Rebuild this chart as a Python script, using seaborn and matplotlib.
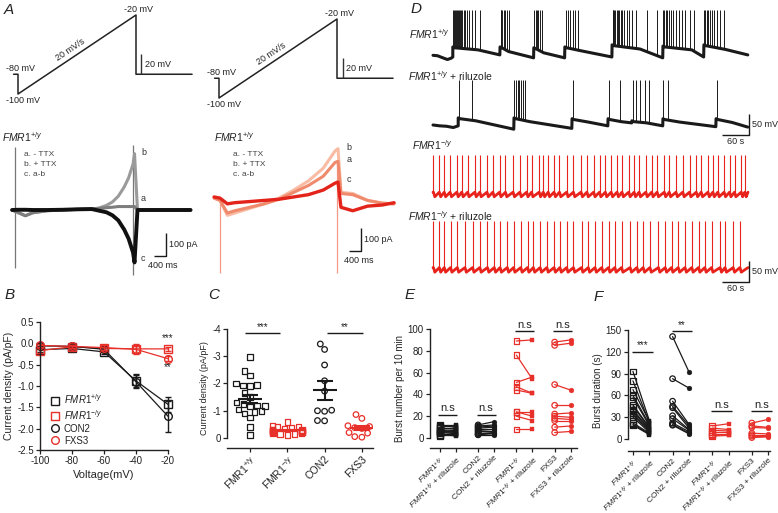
import numpy as np
import pandas as pd
import matplotlib
matplotlib.use("Agg")
import matplotlib.pyplot as plt
import seaborn as sns

sns.set_theme(style="ticks")
plt.rcParams["font.family"] = ["Liberation Sans", "DejaVu Sans"]
plt.rcParams.update({
    "mathtext.fontset": "custom",
    "mathtext.rm": "Liberation Sans",
    "mathtext.it": "Liberation Sans:italic",
    "mathtext.bf": "Liberation Sans:bold",
    "axes.unicode_minus": False,
    "axes.linewidth": 1.0,
    "axes.edgecolor": "#222222",
    "xtick.color": "#222222", "ytick.color": "#222222",
    "xtick.major.width": 0.9, "ytick.major.width": 0.9,
    "xtick.major.size": 3, "ytick.major.size": 3,
    "xtick.major.pad": 1.5, "ytick.major.pad": 1.5,
    "text.color": "#222222",
})

BLACK = "#1a1a1a"
RED = "#e8302a"
WT = r"$\mathit{FMR1}^{+/y}$"
KO = r"$\mathit{FMR1}^{-/y}$"

# ---------------------------------------------------------
# Data
# ---------------------------------------------------------
# A: voltage ramp protocol (s, mV)
ramp_t = [-0.15, 0.0, 0.0, 4.0, 4.0, 5.9]
ramp_v = [-80, -80, -100, -20, -80, -80]

# A: ramp currents (pA), left = FMR1+/y
wt_t = [-0.2, 0.0, 0.25, 0.5, 1.0, 1.5, 2.0, 2.5, 2.75, 3.0, 3.2, 3.4, 3.6, 3.75, 3.9, 3.95, 4.05, 4.5, 5.0, 5.5, 5.85]
wt_a = [0, -10, -25, -12, -3, 0, 3, 5, 6, 10, 12, 15, 15, 15, 15, 15, 0, 0, 0, 0, 0]
wt_b = [0, -12, -25, -12, -3, 0, 2, 4, 9, 20, 35, 60, 100, 140, 200, 245, 0, 0, 0, 0, 0]
wt_c = [0, 1, 1, 0, 0, 1, 3, 4, -3, -10, -23, -45, -85, -125, -185, -228, 0, 0, 0, 0, 0]
wt_tr_t = [-0.1, 3.91]
wt_tr_lo = [-252, -283]
wt_tr_hi = [274, 283]

# A: ramp currents (pA), right panel
fx_t = [-0.2, 0.0, 0.25, 0.5, 1.0, 1.5, 2.0, 2.5, 3.0, 3.5, 3.9, 4.0, 4.1, 4.5, 5.0, 5.5, 5.9]
fx_a = [30, 20, -35, -25, -10, 5, 25, 55, 85, 125, 185, 190, 50, 45, 20, 8, 5]
fx_b = [30, 20, -45, -35, -15, 5, 30, 65, 105, 160, 235, 245, 55, 50, 20, 8, 5]
fx_c = [35, 30, 5, 10, 15, 20, 25, 35, 45, 65, 95, 100, -10, -25, -5, 0, 10]
fx_tr_t = [0.0, 3.98]
fx_tr_lo = [-296, -296]
fx_tr_hi = [20, 180]

# D: FMR1+/y bursting (s, mV): onset, plateau at onset, knee, end of plateau
d1_pre_t = [0, 10, 22, 32, 40, 44]
d1_pre_v = [-56, -57, -62, -66, -63, -60]
d1_on = [44, 149, 224, 293, 398, 511, 602]
d1_v0 = [-36, -36, -38, -36, -31, -34, -31]
d1_knee = [100, 168, 246, 328, 460, 575, 650]
d1_vk = [-43, -47, -50, -45, -41, -43, -42]
d1_v1 = [-55, -62, -62, -60, -62, -60, -55]
d1_spk = [45, 47, 49, 51, 53, 55, 57, 59, 62, 65, 68, 71, 75, 80, 86, 94, 104,
          150, 152, 154, 157, 160, 164, 169,
          225, 228, 231, 234, 238, 243,
          296, 300, 305, 310, 316, 322,
          399, 401, 403, 405, 408, 411, 414, 417, 421, 425, 430, 436, 443, 452, 476, 498,
          512, 514, 517, 520, 524, 528, 533, 539, 546, 553, 561, 570, 580,
          603, 605, 608, 611, 615, 619, 624, 630, 638, 646]

# D: FMR1+/y + riluzole
d2_pre_t = [0, 15, 30, 45, 56]
d2_pre_v = [-60, -62, -63, -66, -62]
d2_on = [56, 180, 309, 389, 442, 511, 629]
d2_v0 = [-43, -43, -45, -45, -50, -45, -45]
d2_knee = [95, 215, 345, 418, 475, 548, 665]
d2_vk = [-50, -52, -53, -52, -55, -53, -54]
d2_v1 = [-70, -68, -62, -55, -62, -64, -65]
d2_spk = [57, 86, 181, 184, 188, 192, 196, 200, 204, 310, 390, 415,
          445, 452, 460, 470, 479, 512, 523, 630]

# D: FMR1-/y tonic firing, spike times (s)
d3_spk = [1, 14, 25, 38, 53, 64, 77, 93, 104, 120, 133, 148, 161, 178, 193, 208, 219,
          236, 245, 256, 269, 281, 297, 312, 329, 342, 357, 370, 383, 396, 409, 420,
          435, 447, 458, 473, 486, 498, 514, 525, 540, 555, 570, 585, 596, 611, 622,
          633, 647, 659, 670, 685, 693]
d4_spk = [1, 14, 25, 39, 54, 71, 88, 104, 121, 136, 149, 165, 179, 195, 210, 223, 238,
          253, 269, 282, 297, 312, 330, 345, 360, 375, 390, 404, 419, 438, 453, 467,
          482, 501, 516, 530, 545, 560, 575, 590, 604, 619, 638, 649, 667, 682]

# B: I-V curves (pA/pF)
volt = [-100, -80, -60, -40, -20]
b_wt = [-0.15, -0.12, -0.2, -0.88, -1.43]
b_wt_sem = [0.05, 0.04, 0.05, 0.15, 0.17]
b_ko = [-0.17, -0.08, -0.12, -0.13, -0.13]
b_ko_sem = [0.05, 0.04, 0.05, 0.12, 0.04]
b_con = [-0.06, -0.07, -0.14, -0.9, -1.71]
b_con_sem = [0.04, 0.04, 0.06, 0.15, 0.36]
b_fxs = [-0.05, -0.07, -0.1, -0.14, -0.36]
b_fxs_sem = [0.04, 0.04, 0.05, 0.08, 0.06]

# C: current density at -20 mV (pA/pF)
c_cats = ["FMR1+/y", "FMR1-/y", "CON2", "FXS3"]
c_wt = [-2.97, -2.45, -2.3, -2.0, -1.95, -1.93, -1.9, -1.65, -1.5, -1.3, -1.25,
        -1.2, -1.18, -1.15, -1.05, -1.0, -0.95, -0.9, -0.75, -0.4, -0.1]
c_ko = [-0.58, -0.45, -0.42, -0.4, -0.38, -0.35, -0.32, -0.3, -0.3, -0.28, -0.27,
        -0.25, -0.25, -0.23, -0.22, -0.2, -0.2, -0.18, -0.17, -0.15, -0.15, -0.12]
c_con = [-3.45, -3.25, -2.68, -2.1, -1.72, -1.0, -0.98, -1.02, -0.64, -0.63]
c_fxs = [-0.86, -0.72, -0.45, -0.42, -0.38, -0.35, -0.2, -0.18, -0.05, -0.03]

# E: burst number per 10 min, before / with riluzole
e_wt_pre = [12, 11, 10, 9, 8, 7, 6, 6, 5, 5, 4, 3, 3, 2]
e_wt_ril = [12, 10, 11, 8, 9, 6, 7, 5, 6, 4, 4, 3, 2, 3]
e_con_pre = [12, 11, 10, 9, 8, 7, 6, 5, 4, 3, 3]
e_con_ril = [15, 12, 11, 10, 8, 8, 6, 5, 5, 4, 3]
e_ko_pre = [89, 76, 51, 47, 44, 24, 24, 20, 8]
e_ko_ril = [90, 54, 56, 41, 41, 24, 20, 16, 8]
e_fxs_pre = [88, 85, 49, 30, 22, 20, 18, 16, 10, 5]
e_fxs_ril = [90, 87, 44, 30, 23, 19, 17, 16, 11, 6]

# F: burst duration (s)
f_wt_pre = [93, 80, 68, 60, 57, 47, 45, 40, 38, 35, 33, 30, 22, 20, 19]
f_wt_ril = [25, 22, 24, 20, 18, 16, 15, 14, 13, 12, 10, 9, 8, 7, 6]
f_con_pre = [141, 83, 52, 45, 43, 32, 28, 22, 20, 19]
f_con_ril = [92, 70, 20, 18, 15, 13, 12, 10, 8, 7]
f_ko_pre = [18, 15, 12, 9, 7, 5, 4]
f_ko_ril = [21, 13, 11, 9, 7, 6, 5]
f_fxs_pre = [22, 18, 16, 8, 6, 4, 2]
f_fxs_ril = [27, 16, 15, 7, 6, 4, 3]

pair_labels = [WT, WT + " + riluzole", "CON2", "CON2 + riluzole",
               KO, KO + " + riluzole", "FXS3", "FXS3 + riluzole"]
pair_pos = [0, 1, 2.4, 3.4, 4.8, 5.8, 7.2, 8.2]

# ---------------------------------------------------------
# Figure helpers (pixel layout of a 778x513 figure)
# ---------------------------------------------------------
W, H = 778, 513
fig = plt.figure(figsize=(W / 100, H / 100), dpi=100)


def px_axes(left, top, right, bottom, x0, xs, y0, ys):
    # x0/y0: pixel where data value 0 sits, xs/ys: pixels per data unit
    ax = fig.add_axes([left / W, 1 - bottom / H, (right - left) / W, (bottom - top) / H])
    ax.set_xlim((left - x0) / xs, (right - x0) / xs)
    ax.set_ylim((y0 - bottom) / ys, (y0 - top) / ys)
    ax.axis("off")
    return ax


def box_axes(left, top, right, bottom):
    return fig.add_axes([left / W, 1 - bottom / H, (right - left) / W, (bottom - top) / H])


def ftext(x, y, s, **kw):
    kw.setdefault("fontsize", 6.5)
    fig.text(x / W, 1 - y / H, s, **kw)


def line(ax, x, y, color, lw):
    sns.lineplot(x=x, y=y, sort=False, estimator=None, color=color, lw=lw, ax=ax)


def bar(ax, xs, ys, color=BLACK):
    ax.plot(xs, ys, color=color, lw=1.0, solid_capstyle="butt", clip_on=False)


# panel letters
for lx, ly, letter in [(4, 3, "A"), (411, 2, "D"), (5, 288, "B"), (208, 288, "C"),
                       (405, 288, "E"), (594, 290, "F")]:
    ftext(lx, ly, letter, fontsize=11, style="italic", va="top", ha="left")

# ---------------------------------------------------------
# A: protocols
# ---------------------------------------------------------
for left, x0, y0, bar_t in [(0, 18, -4.75, 4.17), (200, 219, -0.75, 4.2)]:
    ax = px_axes(left, 0, left + 200, 115, x0, 29.5, y0, 0.9875)
    line(ax, ramp_t, ramp_v, "#222222", 1.1)
    bar(ax, [bar_t, bar_t], [-80, -60], "#333333")
    ax.text(-0.42, -79, "-80 mV", ha="left", va="bottom", fontsize=6.5)
    ax.text(-0.42, -102, "-100 mV", ha="left", va="top", fontsize=6.5)
    ax.text(4.1, -18.5, "-20 mV", ha="center", va="bottom", fontsize=6.5)
    ax.text(bar_t + 0.12, -70, "20 mV", ha="left", va="center", fontsize=6.5)
    ax.text(1.85, -59, "20 mV/s", rotation=33.8, rotation_mode="anchor",
            ha="center", va="bottom", fontsize=6.5)

# A: currents, left
ax = px_axes(0, 140, 200, 285, 18, 29.5, 210, 0.23)
ax.vlines(wt_tr_t, wt_tr_lo, wt_tr_hi, color="#777777", lw=0.9)
line(ax, wt_t, wt_b, "#9a9a9a", 2.2)
line(ax, wt_t, wt_a, "#7d7d7d", 2.2)
line(ax, wt_t, wt_c, "#111111", 2.8)
bar(ax, [5.02, 5.02, 4.61], [-100, -200, -200])
ax.text(5.12, -150, "100 pA", ha="left", va="center", fontsize=6.5)
ax.text(4.41, -220, "400 ms", ha="left", va="top", fontsize=6.5)
for lab, yv in [("b", 252), ("a", 48), ("c", -209)]:
    ax.text(4.17, yv, lab, ha="left", va="center", fontsize=6.5, color="#333333")

# A: currents, right
ax = px_axes(200, 140, 400, 285, 220, 29.5, 205, 0.23)
ax.vlines(fx_tr_t, fx_tr_lo, fx_tr_hi, color="#f29a86", lw=0.9)
line(ax, fx_t, fx_b, "#f9bba3", 2.2)
line(ax, fx_t, fx_a, "#f08a6c", 2.2)
line(ax, fx_t, fx_c, "#e3241b", 2.4)
bar(ax, [4.78, 4.78, 4.37], [-100, -200, -200])
ax.text(4.88, -150, "100 pA", ha="left", va="center", fontsize=6.5)
ax.text(4.2, -220, "400 ms", ha="left", va="top", fontsize=6.5)
for lab, yv in [("b", 252), ("a", 196), ("c", 109)]:
    ax.text(4.3, yv, lab, ha="left", va="center", fontsize=6.5, color="#333333")

for lx in (2, 214):
    ftext(lx, 137, WT, fontsize=7.5, va="center")
for lx in (24, 233):
    ftext(lx, 155, "a. - TTX", fontsize=6, color="#444444", va="center")
    ftext(lx, 164.5, "b. + TTX", fontsize=6, color="#444444", va="center")
    ftext(lx, 174, "c. a-b", fontsize=6, color="#444444", va="center")


# ---------------------------------------------------------
# D: current-clamp traces
# ---------------------------------------------------------
def burst_trace(ax, pre_t, pre_v, onsets, v0, knees, vk, v1, t_end, spikes, peak, color):
    bt, bv = list(pre_t), list(pre_v)
    stops = onsets[1:] + [t_end]
    for on, kt, off, a, k, b in zip(onsets, knees, stops, v0, vk, v1):
        bt += [on, on + 4, kt, off - 0.5]
        bv += [a, a - 2, k, b]
    base_at = np.interp(spikes, bt, bv)
    line(ax, bt, bv, color, 2.2)
    ax.vlines(spikes, base_at, peak, color=color, lw=0.7)


def tonic_trace(ax, spikes, v_pre, v_ahp, peak, t_end, color):
    t, v = [0], [v_pre]
    for s in spikes:
        t += [s, s + 1.0, s + 3]
        v += [v_pre, v_ahp + 8, v_ahp]
    t.append(t_end)
    v.append(v_pre)
    line(ax, t, v, color, 2.0)
    ax.vlines(spikes, v_pre, peak, color=color, lw=0.8)


d1 = px_axes(400, 0, 778, 68, 433, 0.45, 31.8, 0.42)
burst_trace(d1, d1_pre_t, d1_pre_v, d1_on, d1_v0, d1_knee, d1_vk, d1_v1, 700, d1_spk, 52, BLACK)
d2 = px_axes(400, 68, 778, 150, 433, 0.45, 99.8, 0.42)
burst_trace(d2, d2_pre_t, d2_pre_v, d2_on, d2_v0, d2_knee, d2_vk, d2_v1, 700, d2_spk, 47, BLACK)
d3 = px_axes(400, 150, 778, 210, 433, 0.45, 169.9, 0.42)
tonic_trace(d3, d3_spk, -53, -64, 36, 700, "#e8231c")
d4 = px_axes(400, 208, 778, 300, 433, 0.45, 244.9, 0.42)
tonic_trace(d4, d4_spk, -54, -65, 58, 700, "#e8231c")

for ax, lo in [(d2, -84), (d4, -88)]:
    bar(ax, [702, 702, 642], [lo + 50, lo, lo])
    ax.text(708, lo + 25, "50 mV", ha="left", va="center", fontsize=6.5)
    ax.text(672, lo - 5, "60 s", ha="center", va="top", fontsize=6.5)

ftext(409, 34, WT, fontsize=7.5, va="center")
ftext(408, 76, WT + " + riluzole", fontsize=7.5, va="center")
ftext(412, 145, KO, fontsize=7.5, va="center")
ftext(408, 216, KO + " + riluzole", fontsize=7.5, va="center")

# ---------------------------------------------------------
# B: I-V curves
# ---------------------------------------------------------
axb = box_axes(40, 322, 168, 450)
b_series = [(b_wt, b_wt_sem, BLACK, "s", WT), (b_ko, b_ko_sem, RED, "s", KO),
            (b_con, b_con_sem, BLACK, "o", "CON2"), (b_fxs, b_fxs_sem, RED, "o", "FXS3")]
handles = []
for vals, sem, col, mk, lab in b_series:
    sns.lineplot(x=volt, y=vals, color=col, marker=mk, ms=5.5, mfc="none", mec=col,
                 mew=1.0, lw=0.9, ax=axb)
    axb.errorbar(volt, vals, yerr=sem, fmt="none", ecolor=col, elinewidth=1.0,
                 capsize=2.5, capthick=1.0, clip_on=False)
    handles.append(plt.Line2D([], [], color=col, marker=mk, ls="none", ms=5.5,
                              mfc="none", mec=col, mew=1.0, label=lab))
for l in axb.lines:
    l.set_clip_on(False)
axb.set_xlim(-100, -20)
axb.set_ylim(-2.5, 0.5)
axb.set_xticks(volt)
axb.set_yticks([0.5, 0.0, -0.5, -1.0, -1.5, -2.0, -2.5])
axb.set_yticklabels(["0.5", "0.0", "-0.5", "-1.0", "-1.5", "-2.0", "-2.5"])
axb.tick_params(labelsize=7)
axb.set_xlabel("Voltage(mV)", fontsize=8, labelpad=3)
axb.set_ylabel("Current density (pA/pF)", fontsize=7.5, labelpad=2)
axb.text(-20, 0.0, "***", ha="center", va="bottom", fontsize=7)
axb.text(-20, -0.45, "**", ha="center", va="top", fontsize=7)
axb.legend(handles=handles, loc="upper left", bbox_to_anchor=(0.05, 0.49), frameon=False,
           fontsize=7, handlelength=0.8, handletextpad=0.5, labelspacing=0.2, borderpad=0)
sns.despine(ax=axb)

# ---------------------------------------------------------
# C: scatter with mean +/- SEM
# ---------------------------------------------------------
axc = box_axes(227, 329, 373, 448)
c_df = pd.DataFrame({"group": sum([[g] * len(v) for g, v in zip(c_cats, [c_wt, c_ko, c_con, c_fxs])], []),
                     "val": c_wt + c_ko + c_con + c_fxs})
c_style = {"FMR1+/y": (BLACK, "s"), "FMR1-/y": (RED, "s"), "CON2": (BLACK, "o"), "FXS3": (RED, "o")}
for i, g in enumerate(c_cats):
    col, mk = c_style[g]
    sns.swarmplot(data=c_df[c_df.group == g], x="group", y="val", order=c_cats, marker=mk,
                  color=col, facecolor="none", edgecolor=col, linewidth=0.9, size=4.0,
                  ax=axc, warn_thresh=1)
    vals = np.array(c_df[c_df.group == g].val)
    m, s = vals.mean(), vals.std(ddof=1) / np.sqrt(len(vals))
    axc.errorbar([i], [m], yerr=[s], fmt="none", ecolor=col, elinewidth=1.5, capsize=5.5,
                 capthick=1.5, zorder=5)
    axc.hlines(m, i - 0.32, i + 0.32, color=col, lw=1.5, zorder=5)
axc.set_xlim(-0.617, 3.298)
axc.set_ylim(0.367, -4)
axc.set_yticks([0, -1, -2, -3, -4])
axc.set_yticklabels(["0", "-1", "-2", "-3", "-4"])
axc.spines["left"].set_bounds(-4, 0)
axc.set_xticks(range(4))
axc.set_xticklabels([r"FMR1$^{\mathrm{+/y}}$", r"FMR1$^{\mathrm{-/y}}$", "CON2", "FXS3"],
                    rotation=45, ha="right", rotation_mode="anchor", fontsize=7.5)
axc.tick_params(axis="y", labelsize=7)
axc.set_xlabel("")
axc.set_ylabel("Current density (pA/pF)", fontsize=6.5, labelpad=2)
for x0, x1, star in [(-0.13, 0.8, "***"), (2.07, 3.03, "**")]:
    bar(axc, [x0, x1], [-3.85, -3.85])
    axc.text((x0 + x1) / 2, -3.88, star, ha="center", va="bottom", fontsize=7)
sns.despine(ax=axc)


# ---------------------------------------------------------
# E / F: paired riluzole effects
# ---------------------------------------------------------
def paired(ax, pre, ril, p0, p1, color, mk):
    n = len(pre)
    df = pd.DataFrame({"sid": list(range(n)) * 2, "pos": [p0] * n + [p1] * n, "val": pre + ril})
    sns.lineplot(data=df, x="pos", y="val", units="sid", estimator=None, color=color,
                 lw=0.9, ax=ax, legend=False)
    sns.scatterplot(x=[p0] * n, y=pre, marker=mk, s=16, color=color, facecolor="none",
                    edgecolor=color, linewidth=0.9, ax=ax, legend=False, zorder=3)
    sns.scatterplot(x=[p1] * n, y=ril, marker=mk, s=12, color=color, edgecolor=color,
                    ax=ax, legend=False, zorder=3)


def style_pairs(ax, ymax, step, ylab):
    for c in ax.collections:
        c.set_clip_on(False)
    for l in ax.lines:
        l.set_clip_on(False)
    ax.set_yticks(np.arange(0, ymax + 1, step))
    ax.spines["left"].set_bounds(0, ymax)
    ax.set_xticks(pair_pos)
    ax.set_xticklabels(pair_labels, rotation=45, ha="right", rotation_mode="anchor", fontsize=6)
    ax.tick_params(axis="y", labelsize=7)
    ax.set_xlabel("")
    ax.set_ylabel(ylab, fontsize=7, labelpad=2)
    sns.despine(ax=ax)


axe = box_axes(430, 329, 577, 448)
paired(axe, e_wt_pre, e_wt_ril, pair_pos[0], pair_pos[1], BLACK, "s")
paired(axe, e_con_pre, e_con_ril, pair_pos[2], pair_pos[3], BLACK, "o")
paired(axe, e_ko_pre, e_ko_ril, pair_pos[4], pair_pos[5], RED, "s")
paired(axe, e_fxs_pre, e_fxs_ril, pair_pos[6], pair_pos[7], RED, "o")
axe.set_xlim(-0.62, 8.6)
axe.set_ylim(-9.17, 100)
style_pairs(axe, 100, 20, "Burst number per 10 min")
for k, yv in [(0, 21), (2, 21), (4, 98), (6, 98)]:
    bar(axe, [pair_pos[k] - 0.1, pair_pos[k + 1] + 0.1], [yv, yv])
    axe.text((pair_pos[k] + pair_pos[k + 1]) / 2, yv + 1.5, "n.s", ha="center", va="bottom", fontsize=8)

axf = box_axes(628, 330, 770, 451)
paired(axf, f_wt_pre, f_wt_ril, pair_pos[0], pair_pos[1], BLACK, "s")
paired(axf, f_con_pre, f_con_ril, pair_pos[2], pair_pos[3], BLACK, "o")
paired(axf, f_ko_pre, f_ko_ril, pair_pos[4], pair_pos[5], RED, "s")
paired(axf, f_fxs_pre, f_fxs_ril, pair_pos[6], pair_pos[7], RED, "o")
axf.set_xlim(-0.3, 8.3)
axf.set_ylim(-16.5, 150)
style_pairs(axf, 150, 30, "Burst duration (s)")
for k, yv, lab, fs in [(0, 120, "***", 7), (2, 148, "**", 7), (4, 38, "n.s", 8), (6, 38, "n.s", 8)]:
    bar(axf, [pair_pos[k] - 0.05, pair_pos[k + 1] + 0.2], [yv, yv])
    axf.text((pair_pos[k] + pair_pos[k + 1]) / 2 + 0.07, yv + 2, lab, ha="center", va="bottom", fontsize=fs)

fig.savefig("out.png", dpi=100)
